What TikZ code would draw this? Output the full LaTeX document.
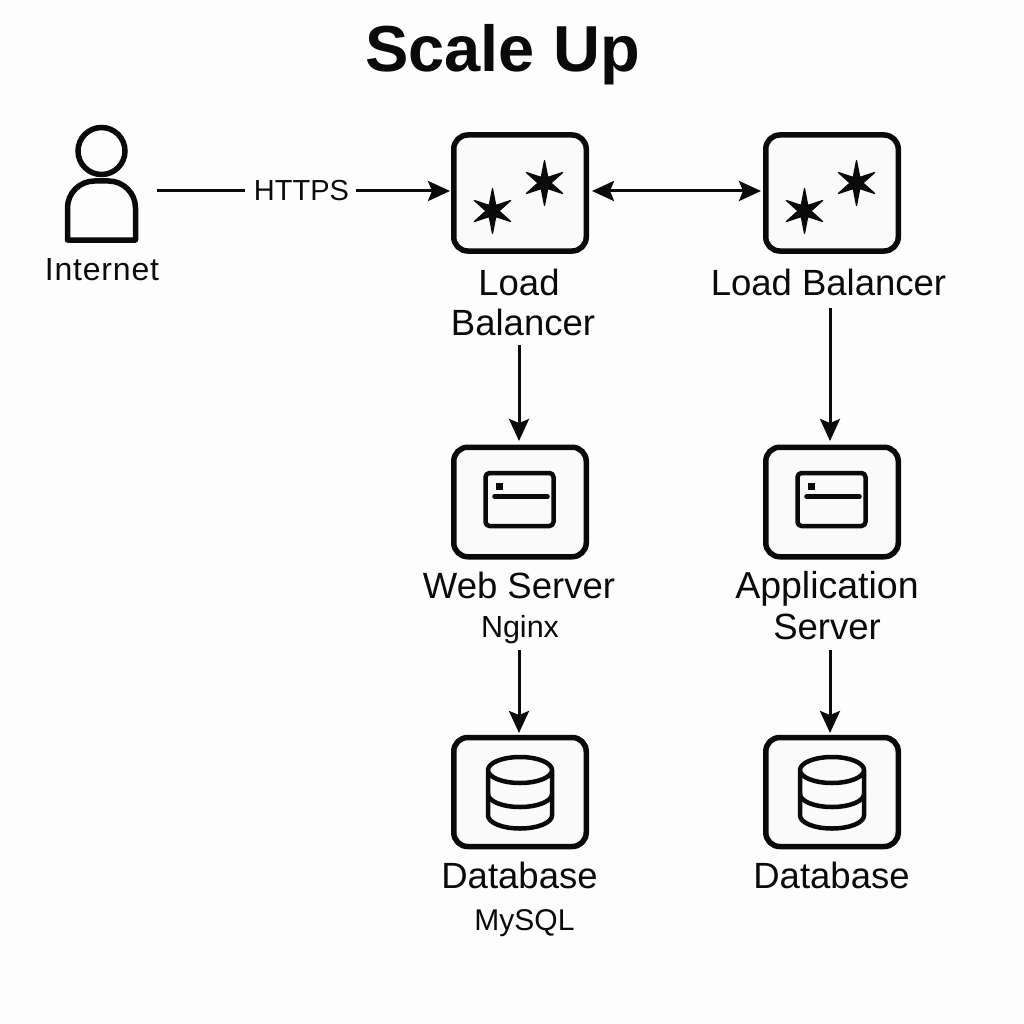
\documentclass[tikz,border=0pt]{standalone}
\usepackage{fontspec}
\setmainfont{Liberation Sans}
\usetikzlibrary{arrows.meta,shapes.geometric}
\definecolor{ink}{HTML}{0A0A0A}
\definecolor{paper}{HTML}{FDFDFD}
\definecolor{tile}{HTML}{FAFAFA}
\newcommand{\fs}[1]{\fontsize{#1}{#1}\selectfont}
\tikzset{
  tilebox/.style={draw=ink,fill=tile,line width=5.5pt,rounded corners=14pt,minimum width=132.5pt,inner sep=0pt},
  lbl/.style={font=\fs{36.5},text=ink,inner sep=0pt,anchor=base},
  sublbl/.style={font=\fs{30},text=ink,inner sep=0pt,anchor=base},
  arr/.style={draw=ink,line width=3pt,-{Stealth[length=22pt,width=20pt,inset=4pt]}},
  arrboth/.style={draw=ink,line width=3pt,{Stealth[length=22pt,width=20pt,inset=4pt]}-{Stealth[length=22pt,width=20pt,inset=4pt]}},
  plain/.style={draw=ink,line width=3pt},
  icon/.style={draw=ink,line width=4.5pt,line join=round},
  pics/starpic/.style={code={\filldraw[ink,line width=1.2pt,line join=round] (90:22.5pt)--(60:6.5pt)--(30:21pt)--(0:6.5pt)--(-30:21pt)--(-60:6.5pt)--(-90:22.5pt)--(-120:6.5pt)--(-150:21pt)--(180:6.5pt)--(150:21pt)--(120:6.5pt)--cycle;}},
  pics/srvicon/.style={code={
    \draw[icon,fill=tile,rounded corners=4pt] (-34,-26.5) rectangle (34,26.5);
    \draw[icon,line cap=round] (-25,-3) -- (28,-3);
    \fill[ink] (-23.5,-16.5) rectangle (-17,-9.5);
  }},
  pics/dbicon/.style={code={
    \draw[icon,fill=tile] (-32,0) -- (-32,45.5) arc[start angle=180,end angle=0,x radius=32,y radius=13] -- (32,0) arc[start angle=0,end angle=360,x radius=32,y radius=13];
    \draw[icon] (-32,24) arc[start angle=180,end angle=0,x radius=32,y radius=13];
  }}
}
\begin{document}
\begin{tikzpicture}[x=1pt,y=-1pt]
\useasboundingbox (0,0) rectangle (1024,1024);
\fill[paper] (0,0) rectangle (1024,1024);

\node[text=ink,inner sep=0pt,anchor=base,font=\bfseries\fs{65}] (title) at (502.5,72) {Scale Up};

% person
\node[draw=ink,fill=paper,line width=5.5pt,ellipse,minimum width=47pt,minimum height=47pt,inner sep=0pt] (head) at (101.5,151) {};
\draw[draw=ink,fill=paper,line width=5.5pt,line join=round] (67.5,240) -- (67.5,208) arc[start angle=180,end angle=270,radius=27] -- (108.5,181) arc[start angle=270,end angle=360,radius=27] -- (135.5,240) -- cycle;
\node[lbl,font=\fs{32}\addfontfeature{LetterSpace=2.5}] (internet) at (102,280) {Internet};

% boxes
\node[tilebox,minimum height=116pt] (lbA) at (520,193) {};
\node[tilebox,minimum height=116pt] (lbB) at (832,193) {};
\node[tilebox,minimum height=109.5pt] (web) at (520,502) {};
\node[tilebox,minimum height=109.5pt] (app) at (832,502) {};
\node[tilebox,minimum height=109pt] (dbA) at (520,792) {};
\node[tilebox,minimum height=109pt] (dbB) at (832,792) {};

% icons
\pic at (492.5,211) {starpic};
\pic at (544.5,183) {starpic};
\pic at (804.5,211) {starpic};
\pic at (856.5,183) {starpic};
\pic at (519.5,499.5) {srvicon};
\pic at (831.5,499.5) {srvicon};
\pic at (520,770) {dbicon};
\pic at (832,770) {dbicon};

% labels
\node[lbl] (lbAa) at (519,295.5) {Load};
\node[lbl] (lbAb) at (523,335) {Balancer};
\node[lbl] (lbBa) at (828.5,295.5) {Load Balancer};
\node[lbl] (webl) at (519,598) {Web Server};
\node[sublbl,font=\fs{30.5}] (webs) at (520,637.5) {Nginx};
\node[lbl,font=\fs{37.5}] (appa) at (827,598) {Application};
\node[lbl] (appb) at (827,639) {Server};
\node[lbl] (dbAl) at (519.5,888.5) {Database};
\node[sublbl] (dbAs) at (524.5,930) {MySQL};
\node[lbl] (dbBl) at (831.5,888.5) {Database};
\node[lbl,font=\fs{29}] (https) at (301.5,200.5) {HTTPS};

% connectors
\coordinate (netout) at (157,191);
\coordinate (hin) at (245,191);
\coordinate (hout) at (356,191);
\coordinate (sA) at (519,345);
\coordinate (sB) at (830,308);
\coordinate (sC) at (519,650);
\coordinate (sD) at (830,650);
\coordinate (tA) at (519,441);
\coordinate (tB) at (830,441);
\coordinate (tC) at (519,733);
\coordinate (tD) at (830,733);
\coordinate (ltA) at (450,191);
\coordinate (ltB) at (592,191);
\coordinate (ltC) at (761,191);

\draw[plain] (netout) -- (hin);
\draw[arr] (hout) -- (ltA);
\draw[arrboth] (ltB) -- (ltC);
\draw[arr] (sA) -- (tA);
\draw[arr] (sB) -- (tB);
\draw[arr] (sC) -- (tC);
\draw[arr] (sD) -- (tD);
\end{tikzpicture}
\end{document}
